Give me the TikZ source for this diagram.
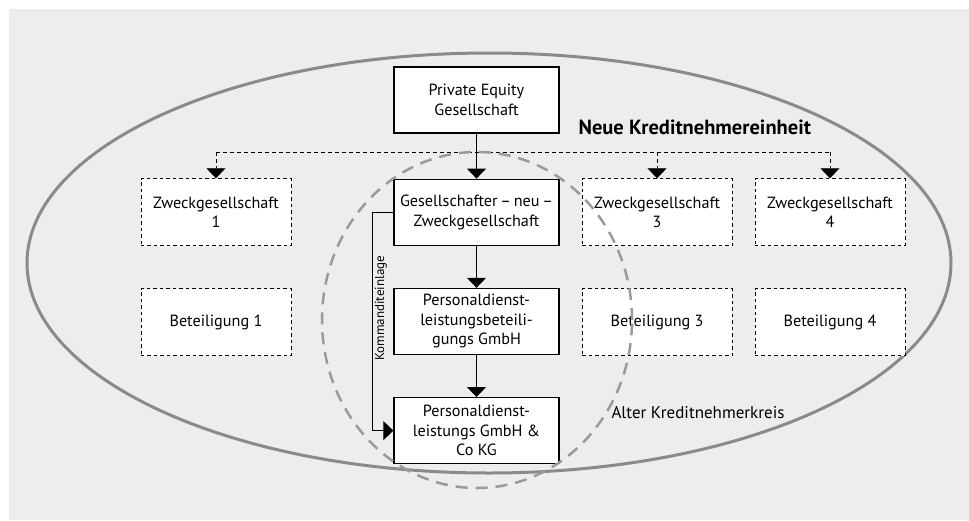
\documentclass[tikz,border=0pt]{standalone}
\usepackage{fontspec}
\setmainfont{PT Sans}
\usepackage{tikz}
\usetikzlibrary{arrows.meta,positioning,calc}

\definecolor{bggray}{HTML}{EDEDED}
\definecolor{ringgray}{HTML}{8A8A8A}
\definecolor{circgray}{HTML}{9A9A9A}

\begin{document}
\begin{tikzpicture}[x=1pt, y=1pt,
      solidbox/.style={rectangle, draw, line width=1.2pt, fill=white,
        minimum width=165pt, minimum height=66pt, align=center, inner sep=2pt,
        font=\fontsize{16.2}{19.5}\selectfont},
      dashbox/.style={rectangle, draw, line width=0.9pt, fill=white,
        dash pattern=on 3.5pt off 3pt, inner sep=2pt,
        minimum width=150pt, minimum height=67pt, align=center,
        font=\fontsize{16.2}{19.5}\selectfont},
      arr/.style={line width=1pt, -{Triangle[width=19pt, length=10pt]}},
      darr/.style={line width=0.9pt, dash pattern=on 4pt off 3pt,
        -{Triangle[width=19pt, length=10pt]}},
      bus/.style={line width=0.9pt, dash pattern=on 4pt off 3pt},
      ring/.style={draw=ringgray, line width=3pt},
      oldring/.style={draw=circgray, line width=2.5pt, dash pattern=on 12pt off 8pt}
    ]

    % --- canvas ---
    \useasboundingbox (0,0) rectangle (969,-520);
    \fill[bggray] (9,-9) rectangle (969,-520);

    % --- Neue Kreditnehmereinheit ---
    \draw[ring] (489,-263) ellipse [x radius=462, y radius=210];

    % --- middle column ---
    \node[solidbox] (pe) at (476.5,-100) {Private Equity\\Gesellschaft};
    \node[solidbox, below=45pt of pe] (ges) {Gesellschafter\,--\,neu\,--\\Zweckgesellschaft};
    \node[solidbox, below=42pt of ges] (pdb) {Personaldienst-\\leistungsbeteili-\\gungs GmbH};
    \node[solidbox, below=42pt of pdb] (pdk) {Personaldienst-\\leistungs GmbH \&\\Co KG};

    % --- Zweckgesellschaften and Beteiligungen ---
    \node[dashbox, left=102pt of ges] (zw1) {Zweckgesellschaft\\1};
    \node[dashbox, right=22pt of ges] (zw3) {Zweckgesellschaft\\3};
    \node[dashbox, right=22pt of zw3] (zw4) {Zweckgesellschaft\\4};
    \node[dashbox, below=42pt of zw1] (bt1) {Beteiligung 1};
    \node[dashbox, below=42pt of zw3] (bt3) {Beteiligung 3};
    \node[dashbox, below=42pt of zw4] (bt4) {Beteiligung 4};

    \node[font=\fontsize{20.5}{23}\selectfont\bfseries, anchor=west] (nke) at (575,-127) {Neue Kreditnehmereinheit};

    % --- connectors ---
    \coordinate (busy) at (0,-152);
    \draw[bus] (zw1 |- busy) -- (zw4 |- busy);
    \draw[darr] (zw1 |- busy) -- (zw1.north);
    \draw[darr] (zw3 |- busy) -- (zw3.north);
    \draw[darr] (zw4 |- busy) -- (zw4.north);

    \draw[arr] (pe) -- (ges);
    \draw[arr] (ges) -- (pdb);
    \draw[arr] (pdb) -- (pdk);

    \coordinate (kbend) at ($(ges.west)+(-21,0)$);
    \draw[arr] (ges.west) -- (kbend) -- (kbend |- pdk.west)
      node[pos=0.44, rotate=90, anchor=north, inner sep=2pt, font=\fontsize{13}{15}\selectfont] (klab) {Kommanditeinlage}
      -- (pdk.west);

    % --- Alter Kreditnehmerkreis ---
    \draw[oldring] (477,-320) ellipse [x radius=155, y radius=168];
    \node[anchor=west, font=\fontsize{17}{20}\selectfont] (akk) at (608,-413) {Alter Kreditnehmerkreis};
  \end{tikzpicture}
\end{document}
